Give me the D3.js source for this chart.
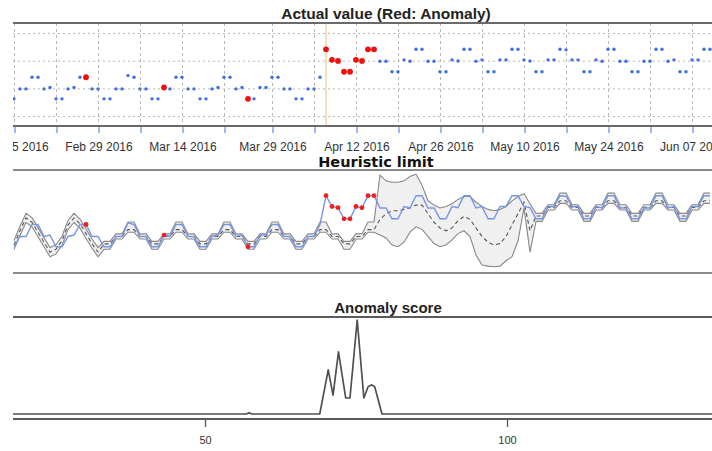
<!DOCTYPE html>
<html><head><meta charset="utf-8">
<script src="https://cdn.jsdelivr.net/npm/d3@7/dist/d3.min.js"></script>
<style>
body{margin:0;background:#fff}
svg{display:block}
text{font-family:"Liberation Sans",Arial,sans-serif}
</style>
</head><body>
<svg id="c" width="712" height="451"></svg>
<script>
// ---------- data ----------
const startDate = "2016-02-15";
const actual = [
 16.4,20,20,24.2,24.2,20,20.5,16.4,16.4,20,
 20.5,24.2,24.2,20,20,16.4,16.4,20,20,24.8,
 24.2,20,20,16.4,16.4,20.5,20,24.2,24.2,20,
 20,16.4,16.4,20,20.5,24.2,24.2,20,20.5,16.4,
 16.4,20.5,20.5,24.2,24.2,20,20,16.4,16.4,20,
 20,24.2,34.3,30.5,30.1,26.2,26.2,30.5,30.1,34.3,
 34.3,30,30,26.2,26.2,30.5,30,34.3,34.3,30,
 30,26.2,26.2,30.5,30.1,34.3,34.3,30,30.5,26.2,
 26.2,30.5,30.5,34.3,34.3,30.5,30.1,26.2,26.2,30.5,
 30.5,34.3,34.1,30.5,30.5,26.2,26.2,30.5,30,34.3,
 34.3,30,30,26.2,26.2,30,30,34.3,34.3,30,
 30.5,26.2,26.2,30.5,30.5,34.3,34.3];
const anomalyIdx = [12,25,39,52,53,54,55,56,57,58,59,60];
const expected = [
 17,22,26.5,25,21.5,18,14.5,15.5,18.5,24,
 26.5,24.5,21,17.5,14.5,17.4,17.4,20,20,22.4,
 22.4,20,20,17.4,17.4,20,20,22.4,22.4,20,
 20,17.4,17.4,20,20,22.4,22.4,20,20,17.4,
 17.4,20,20,22.4,22.4,20,20,17.4,17.4,20,
 20,22.4,22.4,20,20,17.4,17.4,20,20,22.4,
 22.4,26,28,29,29,29.5,30,31,31,28,
 25,23,22,23,25.5,27,26,23,20,18,
 17,17.5,20,24,28,32,22,27.2,27.2,30.2,
 30.2,32.5,32.5,30.2,30.2,27.2,27.2,30.2,30.2,32.5,
 32.5,30.2,30.2,27.2,27.2,30.2,30.2,32.5,32.5,30.2,
 30.2,27.2,27.2,30.2,30.2,32.5,32.5];
const upper = [
 18.6,23.6,28.1,26.6,23.1,19.6,16.1,17.1,20.1,25.6,
 28.1,26.1,22.6,19.1,16.1,18.3,18.3,20.9,20.9,25.1,
 25.1,20.9,20.9,18.3,18.3,20.9,20.9,25.1,25.1,20.9,
 20.9,18.3,18.3,20.9,20.9,25.1,25.1,20.9,20.9,18.3,
 18.3,20.9,20.9,25.1,25.1,20.9,20.9,18.3,18.3,20.9,
 20.9,25.1,25.1,20.9,20.9,18.3,18.3,20.9,20.9,25.1,
 25.1,41.5,39.5,39,39,39.5,41,41.8,38,32.5,
 31,30,30.5,31.5,33,34,34,32,30.5,29.5,
 29,29.5,30.5,32.5,34,35,31.5,28.1,28.1,31.1,
 31.1,35.2,35.2,31.1,31.1,28.1,28.1,31.1,31.1,35.2,
 35.2,31.1,31.1,28.1,28.1,31.1,31.1,35.2,35.2,31.1,
 31.1,28.1,28.1,31.1,31.1,35.2,35.2];
const lower = [
 15.4,20.4,24.9,23.4,19.9,16.4,12.9,13.9,16.9,22.4,
 24.9,22.9,19.4,15.9,12.9,15.5,15.5,19.1,19.1,21.5,
 21.5,19.1,19.1,15.5,15.5,19.1,19.1,21.5,21.5,19.1,
 19.1,15.5,15.5,19.1,19.1,21.5,21.5,19.1,19.1,15.5,
 15.5,19.1,19.1,21.5,21.5,19.1,19.1,15.5,15.5,19.1,
 19.1,21.5,21.5,19.1,19.1,15.5,15.5,19.1,19.1,21.5,
 21.5,20.5,19.5,17,16.4,18,21.5,23.4,22.5,20,
 17.5,16.4,17,18.8,21,22,20,13.5,10,9.6,
 9.4,9.6,11.5,12.9,18.5,30,14.5,25.3,25.3,29.3,
 29.3,31.6,31.6,29.3,29.3,25.3,25.3,29.3,29.3,31.6,
 31.6,29.3,29.3,25.3,25.3,29.3,29.3,31.6,31.6,29.3,
 29.3,25.3,25.3,29.3,29.3,31.6,31.6];
const changeDate = "2016-04-07";
const tickDates = ["2016-02-15","2016-02-22","2016-02-29","2016-03-07","2016-03-14","2016-03-21",
 "2016-03-29","2016-04-05","2016-04-12","2016-04-19","2016-04-26","2016-05-03","2016-05-10",
 "2016-05-17","2016-05-24","2016-05-31","2016-06-07"];
const labelDates = ["2016-02-15","2016-02-29","2016-03-14","2016-03-29","2016-04-12","2016-04-26",
 "2016-05-10","2016-05-24","2016-06-07"];
const gridValues = [10,20,30,40];
const scoreIdx = [10,56.8,57.3,57.8,69,70.4,71.2,72.1,73.3,74,75.2,76.3,77,77.6,78.1,79.3,140];
const scoreVal = [0,0,0.012,0,0,0.47,0.2,0.66,0.17,0.17,1.0,0.17,0.29,0.31,0.29,0,0];
const scoreTicks = [50,100];
const titles = ["Actual value (Red: Anomaly)","Heuristic limit","Anomaly score"];

// ---------- setup ----------
const parse = d3.utcParse("%Y-%m-%d");
const fmt = d3.utcFormat("%b %d %Y");
const d0 = parse(startDate);
const dates = actual.map((_, i) => d3.utcDay.offset(d0, i));
const rows = actual.map((v, i) => ({date: dates[i], v, e: expected[i], u: upper[i], l: lower[i], i}));
const anomalies = anomalyIdx.map(i => rows[i]);
const labelSet = new Set(labelDates);
const FONT = '"Liberation Sans",Arial,sans-serif';

const svg = d3.select("#c");
const L = 13, R = 712;
svg.append("defs").append("clipPath").attr("id","clip")
  .append("rect").attr("x", L).attr("y", 0).attr("width", R - L).attr("height", 451);
const root = svg.append("g").attr("clip-path", "url(#clip)");

const x = d3.scaleTime().domain([dates[0], dates[dates.length - 1]]).range([14, 710]);

// ---------- top panel ----------
const T = {top: 23, bottom: 126};
const yTop = d3.scaleLinear().domain([6.6, 43.8]).range([T.bottom, T.top]);
const gTop = root.append("g");

gTop.append("g").selectAll("line").data(tickDates.map(parse)).join("line")
  .attr("x1", d => x(d) + 0.5).attr("x2", d => x(d) + 0.5).attr("y1", T.top).attr("y2", T.bottom)
  .attr("stroke", "#b8b8b8").attr("stroke-dasharray", "3,3");
gTop.append("g").selectAll("line").data(gridValues).join("line")
  .attr("x1", L).attr("x2", R).attr("y1", d => yTop(d)).attr("y2", d => yTop(d))
  .attr("stroke", "#b8b8b8").attr("stroke-dasharray", "2,3");

gTop.append("line").attr("x1", x(parse(changeDate))).attr("x2", x(parse(changeDate)))
  .attr("y1", T.top).attr("y2", T.bottom).attr("stroke", "#f7c98a").attr("stroke-width", 1.2);

const ax = d3.axisBottom(x).tickValues(tickDates.map(parse)).tickSize(6).tickPadding(9)
  .tickFormat(d => labelSet.has(d3.utcFormat("%Y-%m-%d")(d)) ? fmt(d) : "");
const axG = gTop.append("g").attr("transform", `translate(0.5,${T.bottom + 1})`).call(ax);
axG.select(".domain").remove();
axG.selectAll(".tick line").attr("stroke", "#7092e6").attr("stroke-width", 1.3);
axG.selectAll(".tick text").attr("fill", "#333").style("font-size", "12px").style("font-family", FONT);

gTop.append("g").selectAll("circle").data(rows).join("circle")
  .attr("cx", d => x(d.date)).attr("cy", d => yTop(d.v)).attr("r", 1.7)
  .attr("fill", "#3e6ee8");
gTop.append("g").selectAll("circle").data(anomalies).join("circle")
  .attr("cx", d => x(d.date)).attr("cy", d => yTop(d.v)).attr("r", 2.9)
  .attr("fill", "#f01010");

[T.top, T.bottom].forEach(yy => gTop.append("line").attr("x1", L).attr("x2", R)
  .attr("y1", yy).attr("y2", yy).attr("stroke", "#6a6a6a").attr("stroke-width", 2));
gTop.append("text").attr("x", 386).attr("y", 19).attr("text-anchor", "middle")
  .style("font-size", "15.5px").style("font-weight", "bold").attr("fill", "#222").text(titles[0]);

// ---------- middle panel ----------
const M = {top: 170, bottom: 273};
const yMid = d3.scaleLinear().domain([7.2, 43.3]).range([M.bottom, M.top]);
const gMid = root.append("g");
gMid.append("path").datum(rows)
  .attr("d", d3.area().x(d => x(d.date)).y0(d => yMid(d.l)).y1(d => yMid(d.u)))
  .attr("fill", "#f0f0f0");
["u", "l"].forEach(k => gMid.append("path").datum(rows)
  .attr("d", d3.line().x(d => x(d.date)).y(d => yMid(d[k])))
  .attr("fill", "none").attr("stroke", "#888").attr("stroke-width", 1.1));
gMid.append("path").datum(rows)
  .attr("d", d3.line().x(d => x(d.date)).y(d => yMid(d.e)))
  .attr("fill", "none").attr("stroke", "#555").attr("stroke-width", 1.1).attr("stroke-dasharray", "4,3");
gMid.append("path").datum(rows)
  .attr("d", d3.line().x(d => x(d.date)).y(d => yMid(d.v)))
  .attr("fill", "none").attr("stroke", "#7596e6").attr("stroke-width", 1.4);
gMid.append("g").selectAll("circle").data(anomalies).join("circle")
  .attr("cx", d => x(d.date)).attr("cy", d => yMid(d.v)).attr("r", 2.4).attr("fill", "#f02020");
[M.top, M.bottom].forEach(yy => root.append("line").attr("x1", L).attr("x2", R)
  .attr("y1", yy).attr("y2", yy).attr("stroke", "#8a8a8a").attr("stroke-width", 2));
root.append("text").attr("x", 376).attr("y", 167).attr("text-anchor", "middle")
  .style("font-size", "14.5px").style("font-weight", "bold").style("font-family", '"DejaVu Sans",sans-serif')
  .attr("fill", "#111").text(titles[1]);

// ---------- bottom panel ----------
const B = {top: 317, bottom: 419};
const xIdx = d3.scaleLinear().domain([50, 100]).range([205, 507]);
const yScore = d3.scaleLinear().domain([0, 1]).range([414, 320]);
const gBot = root.append("g");
gBot.append("path").datum(scoreIdx.map((k, j) => [k, scoreVal[j]]))
  .attr("d", d3.line().x(d => xIdx(d[0])).y(d => yScore(d[1])))
  .attr("fill", "none").attr("stroke", "#505050").attr("stroke-width", 1.7)
  .attr("stroke-linejoin", "round");
[B.top, B.bottom].forEach(yy => gBot.append("line").attr("x1", L).attr("x2", R)
  .attr("y1", yy).attr("y2", yy).attr("stroke", "#5a5a5a").attr("stroke-width", 1.8));
const bx = d3.axisBottom(xIdx).tickValues(scoreTicks).tickSize(7).tickPadding(9);
const bxG = gBot.append("g").attr("transform", `translate(0,${B.bottom + 1})`).call(bx);
bxG.select(".domain").remove();
bxG.selectAll(".tick line").attr("stroke", "#555").attr("stroke-width", 1.3);
bxG.selectAll(".tick text").attr("fill", "#333").style("font-size", "11px").style("font-family", FONT);
gBot.append("text").attr("x", 388).attr("y", 313).attr("text-anchor", "middle")
  .style("font-size", "15px").style("font-weight", "bold").attr("fill", "#222").text(titles[2]);
</script>
</body></html>
